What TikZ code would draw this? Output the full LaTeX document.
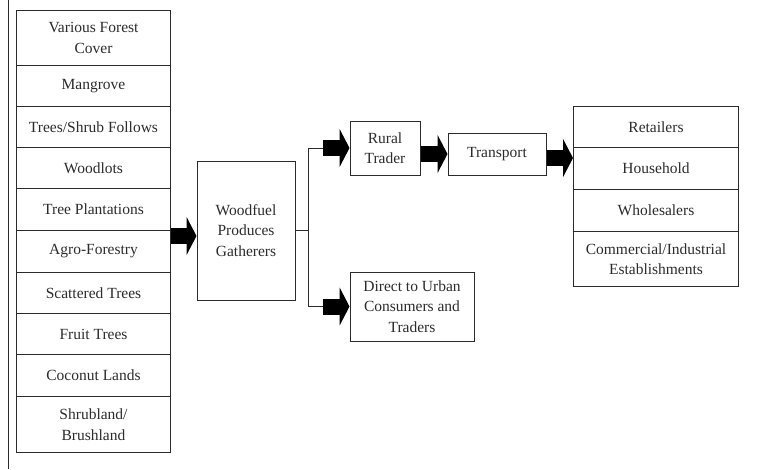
\documentclass[tikz,border=0pt]{standalone}
\usepackage{fontspec}
\setmainfont{Liberation Serif}
\usepackage{tikz}
\usetikzlibrary{arrows.meta}
\definecolor{inkgray}{HTML}{2B2B2B}

\begin{document}
\begin{tikzpicture}[
  x=1pt, y=-1pt,
  every node/.style={font=\fontsize{15.5}{20.5}\selectfont, text=inkgray},
  box/.style={draw=inkgray, line width=1pt, align=center, inner sep=0pt, minimum width=#1},
  row/.style={box=154pt, anchor=north west, minimum height=#1},
  rrow/.style={box=165pt, anchor=north west, minimum height=#1},
  blockarr/.style={draw=black, line width=16pt, -{Triangle[length=10pt, width=38pt]}},
  thin/.style={draw=inkgray, line width=1pt}
]
\useasboundingbox (0,0) rectangle (757,469);
\draw[thin] (8,0) -- (8,469);

% Sources
\node[row=55pt] (src_forest) at (16,10) {Various Forest\\Cover};
\node[row=41pt] (src_mangrove) at (16,65) {Mangrove};
\node[row=41pt] (src_shrub) at (16,106) {Trees/Shrub Follows};
\node[row=41pt] (src_woodlot) at (16,147) {Woodlots};
\node[row=42pt] (src_plant) at (16,188) {Tree Plantations};
\node[row=42pt] (src_agro) at (16,230) {Agro-Forestry};
\node[row=41pt] (src_scatter) at (16,272) {Scattered Trees};
\node[row=41pt] (src_fruit) at (16,313) {Fruit Trees};
\node[row=42pt] (src_coconut) at (16,354) {Coconut Lands};
\node[row=56pt] (src_brush) at (16,396) {Shrubland/\\Brushland};

% Gatherers
\node[box=98pt, minimum height=139pt] (gather) at (246,230.5) {Woodfuel\\Produces\\Gatherers};
\coordinate (agro_out) at ([yshift=-6pt]src_agro.north east);
\draw[blockarr] (agro_out) -- (gather.west |- agro_out);

% Traders
\node[box=70pt, minimum height=54pt] (rural) at (385,148) {Rural\\Trader};
\node[box=98pt, minimum height=42pt] (transport) at (497,154) {Transport};
\node[box=124pt, minimum height=69pt] (direct) at (412,306.5) {Direct to Urban\\Consumers and\\Traders};

\coordinate (fork) at ([xshift=13pt]gather.east);
\draw[thin] (gather.east) -- (fork);
\draw[thin] (fork |- rural) -- (fork |- direct);
\draw[thin] (fork |- rural) -- ++(14,0) coordinate (rural_in);
\draw[thin] (fork |- direct) -- ++(14,0) coordinate (direct_in);
\draw[blockarr] (rural_in) -- (rural.west);
\draw[blockarr] (direct_in) -- (direct.west);
\draw[blockarr] (rural.east |- transport) -- (transport.west);

% Consumers
\node[rrow=41pt] (con_retail) at (573,106) {Retailers};
\node[rrow=42pt] (con_house) at (573,147) {Household};
\node[rrow=42pt] (con_whole) at (573,189) {Wholesalers};
\node[rrow=55pt] (con_comm) at (573,231) {Commercial/Industrial\\Establishments};

\coordinate (trans_out) at ([yshift=-4pt]transport.east);
\draw[blockarr] (trans_out) -- (con_retail.west |- trans_out);

\end{tikzpicture}
\end{document}
